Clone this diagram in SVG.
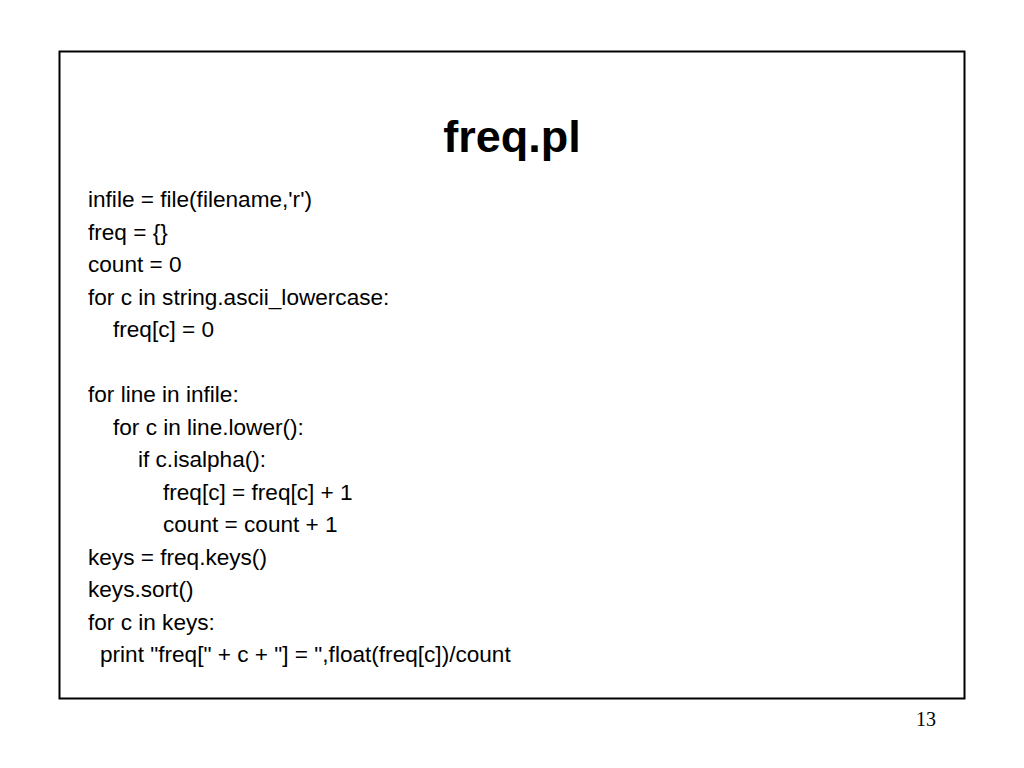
<svg xmlns="http://www.w3.org/2000/svg" width="1024" height="768" viewBox="0 0 1024 768">
<style>
.c{font-family:"Liberation Sans",Arial,sans-serif;font-size:22.6px;fill:#000}
</style>
<rect width="1024" height="768" fill="#fff"/>
<rect x="59.5" y="51.5" width="905" height="647" fill="none" stroke="#000" stroke-width="2"/>
<text x="512" y="152" text-anchor="middle" font-family="Liberation Sans,Arial,sans-serif" font-weight="bold" font-size="45">freq.pl</text>
<g>
<text class="c" x="88" y="207">infile = file(filename,'r')</text>
<text class="c" x="88" y="240">freq = {}</text>
<text class="c" x="88" y="272">count = 0</text>
<text class="c" x="88" y="305">for c in string.ascii_lowercase:</text>
<text class="c" x="113" y="337">freq[c] = 0</text>
<text class="c" x="88" y="402">for line in infile:</text>
<text class="c" x="113" y="435">for c in line.lower():</text>
<text class="c" x="138" y="467">if c.isalpha():</text>
<text class="c" x="163" y="500">freq[c] = freq[c] + 1</text>
<text class="c" x="163" y="532">count = count + 1</text>
<text class="c" x="88" y="565">keys = freq.keys()</text>
<text class="c" x="88" y="597">keys.sort()</text>
<text class="c" x="88" y="630">for c in keys:</text>
<text class="c" x="100" y="662">print "freq[" + c + "] = ",float(freq[c])/count</text>
</g>
<text x="936" y="726" text-anchor="end" font-family="Liberation Serif,Times New Roman,serif" font-size="20">13</text>
</svg>
